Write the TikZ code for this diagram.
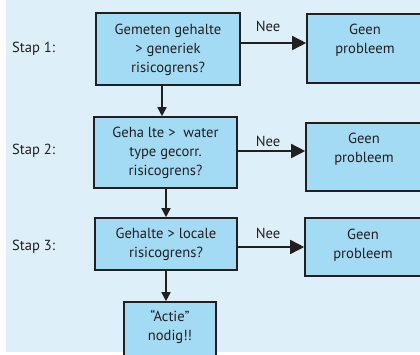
\documentclass[tikz,border=0pt]{standalone}
\usepackage{fontspec}
\setmainfont{PT Sans}
\usetikzlibrary{arrows.meta}
\definecolor{bgblue}{HTML}{DDF0F9}
\definecolor{boxblue}{HTML}{A2DBF3}
\definecolor{ink}{HTML}{231F20}
\tikzset{
  box/.style={draw=ink, line width=1.6pt, fill=boxblue, minimum width=#1, inner sep=0pt},
  txt/.style={font=\fontsize{14.6}{19}\selectfont, text=ink, align=center, inner sep=0pt},
  harrow/.style={draw=ink, line width=1.5pt, -{Triangle[length=14pt,width=14pt]}},
  varrow/.style={draw=ink, line width=1.5pt, -{Triangle[length=9pt,width=9pt]}},
}
\begin{document}
\begin{tikzpicture}[x=1pt,y=-1pt]
\useasboundingbox (0,0) rectangle (420,354);
\fill[bgblue] (6,0) rectangle (420,352);
% main boxes
\node[box=144pt, minimum height=72pt] (b1) at (168,49) {};
\node[box=143pt, minimum height=71pt] (b2) at (165.5,152.5) {};
\node[box=142pt, minimum height=52pt] (b3) at (166,244) {};
\node[box=92pt, minimum height=58pt] (b4) at (170,331) {};
% result boxes
\node[box=120pt, minimum height=69pt] (g1) at (367,48.5) {};
\node[box=120pt, minimum height=68pt] (g2) at (366,157) {};
\node[box=120pt, minimum height=58pt] (g3) at (365,247) {};
% texts
\node[txt] (t1) at (168,50) {Gemeten gehalte\\> generiek\\risicogrens?};
\node[txt] (t2) at (165.5,153) {Geha lte > \ water\\type gecorr.\\risicogrens?};
\node[txt] (t3) at (166,244.5) {Gehalte > locale\\risicogrens?};
\node[txt] (t4) at (170,327) {“Actie”\\nodig!!};
\node[txt] (tg1) at (365,40.5) {Geen\\probleem};
\node[txt] (tg2) at (364,149.5) {Geen\\probleem};
\node[txt] (tg3) at (363,245) {Geen\\probleem};
% step labels
\node[txt, anchor=west] (s1) at (12,49) {Stap 1:};
\node[txt, anchor=west] (s2) at (12,151) {Stap 2:};
\node[txt, anchor=west] (s3) at (12,247) {Stap 3:};
% Nee labels
\node[txt] (n1) at (268,26) {Nee};
\node[txt] (n2) at (268,141) {Nee};
\node[txt] (n3) at (268,233) {Nee};
% arrows
\draw[harrow] (b1.east |- 0,43) -- (g1.west |- 0,43);
\draw[harrow] (b2.east |- 0,151) -- (g2.west |- 0,151);
\draw[harrow] (b3.east |- 0,247) -- (g3.west |- 0,247);
\draw[varrow] (b1.south -| 162,0) -- (b2.north -| 162,0);
\draw[varrow] (b2.south -| 166,0) -- (b3.north -| 166,0);
\draw[varrow] (b3.south -| 166,0) -- (b4.north -| 166,0);
\end{tikzpicture}
\end{document}
